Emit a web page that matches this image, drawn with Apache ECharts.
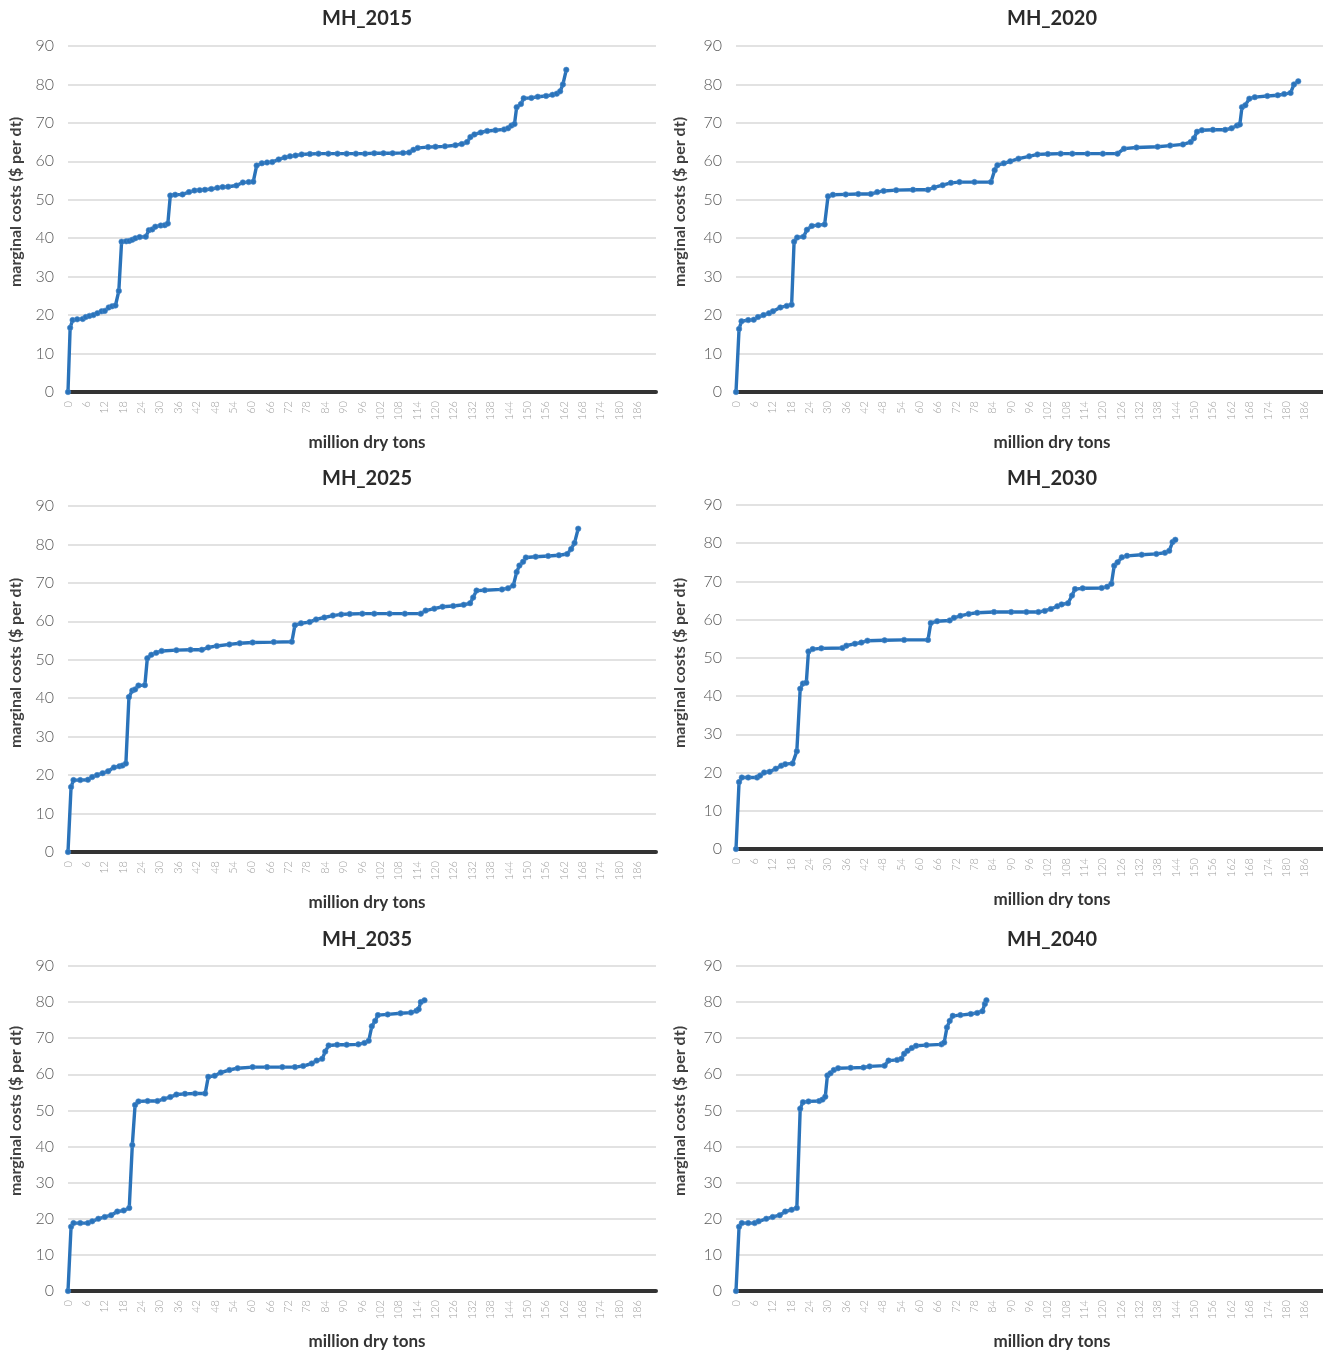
<!DOCTYPE html>
<html>
<head>
<meta charset="utf-8">
<script src="https://cdn.jsdelivr.net/npm/echarts@6/dist/echarts.min.js"></script>
<style>
html,body{margin:0;padding:0;background:#fff;}
#chart{width:1323px;height:1355px;}
</style>
</head>
<body>
<div id="chart"></div>
<script>
// ---- data (million dry tons, $ per dt) ----
const titles = ['MH_2015','MH_2020','MH_2025','MH_2030','MH_2035','MH_2040'];
const xTitle = 'million dry tons';
const yTitle = 'marginal costs ($ per dt)';

const x2015 = [0,0.7,1.5,3,4.8,5.8,7,8.3,9.6,11,12,13.3,14.4,15.5,16.6,17.5,19,20,21,22,23.4,25.4,26.4,27.5,28.5,30.3,31.6,32.6,33.4,35,37.4,39.5,41.3,43,44.7,46.8,48.8,50.5,52.3,55,57.1,59,60.5,61.6,63.3,65,66.7,68.8,70.8,72.5,74.3,76.3,79,81.8,85,88,91,94,97,100,103,106,109.4,111.4,112.8,114.2,117.6,120,123.1,126.5,128.6,130.3,131.4,132.7,134.8,136.9,139.6,142.4,143.7,144.8,145.8,146.5,147.9,148.8,151.3,153.4,156.1,158.2,159.6,160.7,161.6,162.7];
const y2015 = [0,16.7,18.7,18.9,19.0,19.5,19.8,20.0,20.5,21.0,21.1,22.0,22.3,22.5,26.3,39.1,39.2,39.3,39.6,40.0,40.3,40.4,42.1,42.3,43.0,43.3,43.4,43.8,51.1,51.3,51.4,52.0,52.4,52.5,52.6,52.8,53.1,53.3,53.4,53.7,54.5,54.6,54.7,58.9,59.5,59.7,59.8,60.5,61.0,61.3,61.5,61.8,61.9,62.0,62.0,62.0,62.0,62.0,62.0,62.1,62.1,62.1,62.2,62.3,63.0,63.5,63.7,63.8,63.9,64.2,64.5,65.0,66.3,67.0,67.5,67.9,68.1,68.3,68.6,69.3,69.7,74.1,74.9,76.4,76.5,76.8,77.0,77.3,77.6,78.2,80.0,83.8];

const x2020 = [0,1.0,1.8,4,5.8,7.2,9,10.8,12.1,14.5,16.6,18.2,19,20,22.1,23.2,24.8,26.9,29,30.1,31.7,35.9,40,44.1,46.2,48.3,52.4,57.9,62.8,64.8,67.6,70.3,73.1,78,83.4,84.6,85.5,87.6,89.7,92.4,95.9,98.6,102,106.2,110,115,120,124.8,126.9,131,137.9,142,146.2,148.7,149.8,150.8,152.4,156,160,162.1,163.9,164.8,165.5,166.6,167.9,169.7,173.8,177.2,179.3,181.4,182.5,183.9];
const y2020 = [0,16.4,18.4,18.7,18.8,19.5,20.0,20.5,21.0,22.0,22.4,22.7,39.1,40.2,40.4,42.2,43.2,43.4,43.6,50.9,51.3,51.4,51.5,51.5,52.0,52.3,52.5,52.6,52.6,53.2,53.8,54.4,54.6,54.6,54.6,57.7,59.0,59.5,60.0,60.7,61.3,61.8,61.9,62.0,62.0,62.0,62.0,62.0,63.3,63.6,63.8,64.1,64.4,65.0,66.0,67.7,68.1,68.2,68.2,68.6,69.3,69.6,74.1,74.6,76.3,76.7,77.0,77.2,77.5,77.8,80.0,80.8];

const x2025 = [0,1.0,1.8,4,6.5,7.9,9.5,11.3,13.1,15,16.8,17.8,18.9,19.9,21,21.9,23,25.1,25.9,27.2,28.8,30.6,35.4,40,43.7,45.8,48.6,52.7,56.1,60.3,67.2,73.1,74.1,76.1,78.9,81,83.7,86.5,89.2,92,96.1,100,105,110,115.2,116.8,119.6,122.3,125.8,129.2,131.3,132.3,133.4,136.1,141.7,143.7,145.4,146.5,147.4,148.6,149.5,152.7,156.8,160.3,163,164.3,165.4,166.6];
const y2025 = [0,16.9,18.7,18.7,18.8,19.5,20.0,20.5,21.0,22.0,22.3,22.5,23.0,40.3,42.0,42.3,43.3,43.4,50.4,51.3,51.8,52.3,52.5,52.6,52.6,53.2,53.6,54.0,54.3,54.5,54.6,54.7,59.0,59.5,59.8,60.5,61.0,61.5,61.8,61.9,62.0,62.0,62.0,62.0,62.0,62.8,63.3,63.8,64.0,64.3,64.7,66.2,68.0,68.1,68.3,68.6,69.3,72.8,74.5,75.5,76.6,76.8,77.0,77.2,77.5,78.8,80.4,84.1];

const x2030 = [0,1.0,1.9,4,6.9,7.9,9.2,11,13,14.8,16.1,18.5,19.9,21,21.9,23,23.7,25.1,27.9,34.8,36.1,38.9,41,43,48.6,55,62.8,63.7,65.8,69.9,71.3,73.4,76.1,78.9,84.4,90,95,98.9,101,103,105.1,106.5,108.6,109.9,110.9,113.4,119.6,121.4,122.8,123.7,124.8,126.2,127.9,132.7,137.5,140.3,141.7,142.8,143.7];
const y2030 = [0,17.5,18.7,18.7,18.7,19.2,20.0,20.2,21.0,21.8,22.2,22.4,25.6,41.9,43.3,43.5,51.7,52.3,52.5,52.6,53.2,53.7,54.0,54.5,54.6,54.7,54.7,59.1,59.6,59.8,60.5,61.0,61.5,61.8,62.0,62.0,62.0,62.0,62.3,62.8,63.5,64.0,64.3,66.3,68.0,68.2,68.3,68.6,69.4,74.1,75.0,76.3,76.7,77.0,77.2,77.5,78.0,80.3,80.9];

const x2035 = [0,1.0,1.8,4,6.5,7.9,9.9,12,14.1,16.1,18.2,20,21,21.9,23,26,29.2,31.3,33.4,35.4,38.2,41.5,44.8,45.8,47.9,49.9,52.7,55.4,60.3,65,70,74.1,76.8,79.6,81.2,83,84,85.1,87.9,91,94.8,96.8,98.2,99.2,100.3,101.2,104.4,108.6,112,113.8,114.5,115.2,116.4];
const y2035 = [0,17.8,18.8,18.8,18.8,19.3,20.0,20.5,21.0,22.0,22.3,23.0,40.4,51.5,52.5,52.6,52.6,53.2,53.7,54.4,54.6,54.7,54.7,59.3,59.6,60.5,61.2,61.7,62.0,62.0,62.0,62.0,62.3,63.0,63.8,64.3,66.3,68.0,68.2,68.2,68.3,68.7,69.3,73.3,74.8,76.4,76.6,76.9,77.1,77.6,78.0,80.0,80.5];

const x2040 = [0,1.0,1.9,4,6.1,7.4,9.9,12,14.3,16.1,18.2,19.9,21,21.9,23.7,27.2,28.3,29.2,29.9,30.9,32,33.4,37.5,41.7,43.7,48.6,49.9,52.7,54.1,55,56.1,57.5,58.9,62.3,67.2,68.1,69,69.9,70.9,73.4,76.8,78.9,80.6,81.4,81.9];
const y2040 = [0,17.8,18.8,18.8,18.8,19.3,20.0,20.5,21.0,22.0,22.5,23.0,50.5,52.3,52.5,52.6,53.0,53.8,59.7,60.3,61.2,61.7,61.8,61.9,62.2,62.4,63.8,64.0,64.3,65.7,66.5,67.3,67.9,68.1,68.3,68.8,73.0,74.8,76.2,76.4,76.7,77.0,77.5,79.5,80.5];

const xSets = [x2015,x2020,x2025,x2030,x2035,x2040];
const ySets = [y2015,y2020,y2025,y2030,y2035,y2040];

// ---- layout ----
const grids = [
  {left:68, top:46, width:588, height:346},
  {left:736, top:46, width:587, height:346},
  {left:68, top:506, width:588, height:346},
  {left:736, top:505, width:587, height:344},
  {left:68, top:966, width:588, height:325},
  {left:736, top:966, width:587, height:325}
];
const titleY = [9, 9, 469, 469, 930, 930];
const centerX = [367, 1052, 367, 1052, 367, 1052];
const xNameY = [443, 443, 903, 900, 1342, 1342];
const yNameX = [16, 680, 16, 680, 16, 680];
const yNameY = [202, 202, 663, 663, 1111, 1111];

const FONT = 'Lato, "Open Sans", sans-serif';
const BLUE = '#2A73BA';

const graphics = [];
yNameX.forEach((x,i)=>{
  graphics.push({
    type: 'text', x: x, y: yNameY[i], rotation: Math.PI/2, z: 10,
    style: {text: yTitle, align: 'center', verticalAlign: 'middle',
      font: 'bold 16px ' + FONT, fill: '#404040'}
  });
  graphics.push({
    type: 'text', x: centerX[i], y: xNameY[i], z: 10,
    style: {text: xTitle, align: 'center', verticalAlign: 'middle',
      font: 'bold 17px ' + FONT, fill: '#333333'}
  });
});

const option = {
  backgroundColor: '#fff',
  animation: false,
  title: titles.map((t,i)=>({
    text: t, left: centerX[i], top: titleY[i], textAlign: 'center', padding: 0,
    textStyle: {fontFamily: FONT, fontSize: 20, fontWeight: 'bold', color: '#2b2b2b'}
  })),
  grid: grids,
  xAxis: grids.map((g,i)=>({
    type: 'value', gridIndex: i, min: 0, max: 192, interval: 6,
    axisLine: {show: true, onZero: false, lineStyle: {color: '#333', width: 4}},
    axisTick: {show: false},
    splitLine: {show: false},
    axisLabel: {rotate: 90, fontSize: 11, color: '#a0a0a0', margin: 9, fontFamily: FONT, fontWeight: 300, showMaxLabel: false}
  })),
  yAxis: grids.map((g,i)=>({
    type: 'value', gridIndex: i, min: 0, max: 90, interval: 10,
    axisLine: {show: false}, axisTick: {show: false},
    splitLine: {show: true, lineStyle: {color: '#d9d9d9', width: 1.5}},
    axisLabel: {fontSize: 16, color: '#5a5a5a', margin: 14, fontFamily: FONT, fontWeight: 300}
  })),
  graphic: graphics,
  series: xSets.map((xs,i)=>({
    type: 'line', xAxisIndex: i, yAxisIndex: i,
    data: xs.map((x,k)=>[x, ySets[i][k]]),
    showAllSymbol: true, symbol: 'circle', symbolSize: 5.5,
    lineStyle: {color: BLUE, width: 3.4},
    itemStyle: {color: BLUE, borderColor: '#4A8ACB', borderWidth: 0.6},
    clip: false, z: 3
  }))
};

const chart = echarts.init(document.getElementById('chart'), null, {renderer: 'canvas'});
chart.setOption(option);
</script>
</body>
</html>
